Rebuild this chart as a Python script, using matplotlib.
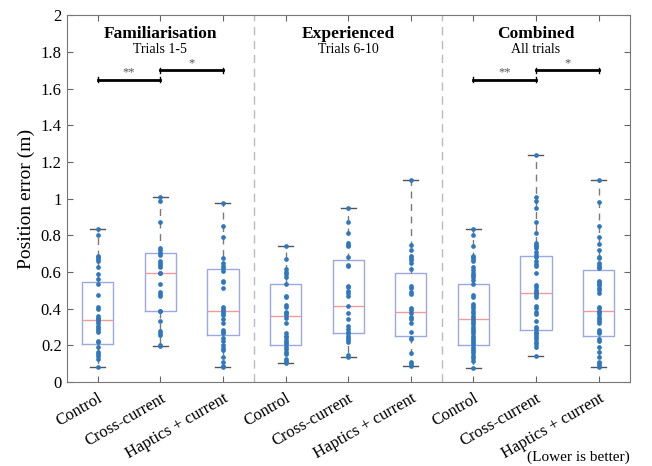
import numpy as np
import matplotlib
matplotlib.use('Agg')
import matplotlib.pyplot as plt

plt.rcParams['font.family'] = ['Liberation Serif', 'DejaVu Serif']

# x tick labels and group headers
conditions = ['Control', 'Cross-current', 'Haptics + current']
group_titles = ['Familiarisation', 'Experienced', 'Combined']
group_subtitles = ['Trials 1-5', 'Trials 6-10', 'All trials']

# individual position errors (m)
fam_control = [0.836, 0.80, 0.69, 0.681, 0.672, 0.663, 0.63, 0.588, 0.563, 0.534,
               0.477, 0.408, 0.40, 0.36, 0.351, 0.343, 0.333, 0.321, 0.308, 0.297,
               0.284, 0.275, 0.226, 0.219, 0.193, 0.162, 0.153, 0.142, 0.126, 0.08]
fam_cross = [1.007, 0.985, 0.871, 0.730, 0.718, 0.703, 0.694, 0.658, 0.648, 0.639,
             0.630, 0.594, 0.594, 0.534, 0.494, 0.481, 0.467, 0.388, 0.388, 0.335,
             0.28, 0.27, 0.257, 0.197, 0.20]
fam_haptics = [0.976, 0.849, 0.791, 0.676, 0.648, 0.634, 0.621, 0.607, 0.554, 0.545,
               0.512, 0.412, 0.399, 0.388, 0.375, 0.366, 0.344, 0.321, 0.284, 0.275,
               0.266, 0.238, 0.224, 0.20, 0.188, 0.173, 0.135, 0.108, 0.089, 0.080]
exp_control = [0.743, 0.674, 0.616, 0.603, 0.590, 0.572, 0.536, 0.472, 0.463, 0.421,
               0.412, 0.384, 0.375, 0.366, 0.352, 0.321, 0.266, 0.253, 0.244, 0.230,
               0.217, 0.206, 0.193, 0.180, 0.166, 0.151, 0.124, 0.113, 0.106]
exp_cross = [0.949, 0.871, 0.812, 0.758, 0.749, 0.740, 0.681, 0.639, 0.634, 0.526,
             0.517, 0.497, 0.488, 0.470, 0.417, 0.375, 0.342, 0.304, 0.289, 0.275,
             0.266, 0.253, 0.242, 0.230, 0.217, 0.148, 0.139]
exp_haptics = [1.10, 0.749, 0.718, 0.69, 0.679, 0.667, 0.648, 0.617, 0.525, 0.516,
               0.49, 0.481, 0.403, 0.393, 0.375, 0.357, 0.342, 0.321, 0.273, 0.242,
               0.235, 0.161, 0.110, 0.098, 0.089]
all_control = [0.834, 0.800, 0.740, 0.689, 0.680, 0.671, 0.663, 0.630, 0.612, 0.597,
               0.585, 0.572, 0.557, 0.536, 0.475, 0.466, 0.424, 0.415, 0.402, 0.390,
               0.375, 0.362, 0.351, 0.339, 0.326, 0.315, 0.302, 0.290, 0.279, 0.266,
               0.253, 0.242, 0.230, 0.217, 0.206, 0.193, 0.180, 0.169, 0.157, 0.144,
               0.129, 0.117, 0.077]
all_cross = [1.240, 1.009, 0.989, 0.949, 0.871, 0.811, 0.758, 0.749, 0.740, 0.730,
             0.712, 0.694, 0.685, 0.658, 0.645, 0.634, 0.597, 0.530, 0.521, 0.503,
             0.494, 0.485, 0.475, 0.463, 0.417, 0.406, 0.381, 0.372, 0.334, 0.298,
             0.288, 0.275, 0.266, 0.257, 0.244, 0.233, 0.220, 0.207, 0.193, 0.142]
all_haptics = [1.100, 0.980, 0.849, 0.792, 0.754, 0.721, 0.685, 0.676, 0.648, 0.639,
               0.630, 0.621, 0.554, 0.545, 0.536, 0.527, 0.512, 0.503, 0.488, 0.412,
               0.402, 0.390, 0.381, 0.372, 0.357, 0.344, 0.333, 0.321, 0.284, 0.275,
               0.266, 0.235, 0.224, 0.193, 0.162, 0.138, 0.111, 0.102, 0.093, 0.084]

# box summary (as drawn in the original)
medians = [0.337, 0.594, 0.390, 0.361, 0.417, 0.383, 0.342, 0.485, 0.386]
q1 = [0.208, 0.388, 0.257, 0.202, 0.266, 0.251, 0.200, 0.282, 0.250]
q3 = [0.548, 0.706, 0.616, 0.536, 0.667, 0.593, 0.536, 0.690, 0.614]

# significance brackets
sig_start = [1, 2, 7, 8]
sig_end = [2, 3, 8, 9]
sig_y = [1.65, 1.70, 1.65, 1.70]
sig_label = ['**', '*', '**', '*']

data = [fam_control, fam_cross, fam_haptics,
        exp_control, exp_cross, exp_haptics,
        all_control, all_cross, all_haptics]
positions = np.arange(1, len(data) + 1)

stats = []
for i, d in enumerate(data):
    stats.append({'med': medians[i], 'q1': q1[i], 'q3': q3[i],
                  'whislo': min(d), 'whishi': max(d), 'fliers': []})

fig = plt.figure(figsize=(6.52, 4.66), dpi=100)
ax = fig.add_axes([0.102, 0.18, 0.864, 0.787])

ax.bxp(stats, positions=positions, widths=0.5, showfliers=False,
       boxprops=dict(color='#9aaae0', linewidth=1.0),
       medianprops=dict(color='#f29a9a', linewidth=1.0),
       whiskerprops=dict(color='#7a7a7a', linewidth=1.0, linestyle=(0, (5, 4))),
       capprops=dict(color='#555555', linewidth=1.0), capwidths=0.24)

for p, d in zip(positions, data):
    ax.plot([p] * len(d), d, 'o', color='#2f78c0', markersize=3.4,
            markeredgewidth=0, zorder=3)

for x in [3.5, 6.5]:
    ax.axvline(x, color='#bbbbbb', linestyle=(0, (6, 4)), linewidth=1.0)

for s, e, y, lab in zip(sig_start, sig_end, sig_y, sig_label):
    ax.plot([s, e], [y, y], color='black', linewidth=2)
    ax.plot([s, s], [y - 0.012, y + 0.012], color='black', linewidth=1)
    ax.plot([e, e], [y - 0.012, y + 0.012], color='black', linewidth=1)
    ax.text((s + e) / 2, y + 0.005, lab, ha='center', va='bottom',
            fontsize=9, color='#555555')

for k in range(3):
    xc = 2 + 3 * k
    ax.text(xc, 1.90, group_titles[k], ha='center', va='center',
            fontsize=12.5, fontweight='bold')
    ax.text(xc, 1.812, group_subtitles[k], ha='center', va='center', fontsize=10)

ax.set_xlim(0.5, 9.5)
ax.set_ylim(0, 2)
ax.set_yticks(np.arange(0, 2.01, 0.2))
ax.set_yticklabels(['0', '0.2', '0.4', '0.6', '0.8', '1', '1.2', '1.4', '1.6', '1.8', '2'])
ax.set_xticks(positions)
ax.set_xticklabels(conditions * 3, rotation=30, ha='right', rotation_mode='anchor')
ax.tick_params(direction='in', top=True, right=True, length=4, color='#666666',
               labelsize=12)
ax.tick_params(axis='x', labelsize=12, pad=6)
for sp in ax.spines.values():
    sp.set_color('#777777')
    sp.set_linewidth(0.8)
ax.set_ylabel('Position error (m)', fontsize=14)

fig.text(0.966, 0.004, '(Lower is better)', ha='right', va='bottom', fontsize=11)

fig.savefig('out.png', dpi=100)
